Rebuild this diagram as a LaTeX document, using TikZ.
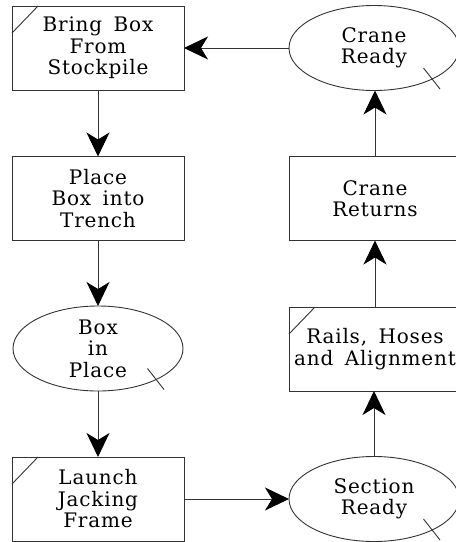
\documentclass[tikz,border=0pt]{standalone}
\usepackage{fontspec}
\setmainfont[LetterSpace=4,WordSpace=1.6]{DejaVu Serif}
\usetikzlibrary{shapes.geometric,arrows.meta,calc}
\begin{document}
\begin{tikzpicture}[x=1pt,y=-1pt,
  every node/.style={font=\fontsize{20}{21.5}\selectfont, align=center, inner sep=0pt, outer sep=0pt},
  task/.style={draw=black!80, line width=0.9pt, rectangle, minimum width=172pt, minimum height=84pt},
  state/.style={draw=black!80, line width=0.9pt, ellipse, minimum width=170pt, minimum height=85pt},
  flow/.style={draw=black!80, line width=0.9pt, -{Stealth[length=24pt,width=23pt,inset=7pt,black]}},
  tickline/.style={draw=black!80, line width=0.9pt}
]
\useasboundingbox (0,0) rectangle (456,542);
\clip (0,0) rectangle (456,542);

% left column: box handling
\node[task]  (bring)   at (98,48)    {Bring Box\\From\\Stockpile};
\node[task]  (place)   at (98,198.5) {Place\\Box into\\Trench};
\node[state] (inplace) at (98,348.5) {Box\\in\\Place};
\node[task]  (launch)  at (98,499)   {Launch\\Jacking\\Frame};

% right column: crane cycle
\node[state] (ready)   at (374,499)   {Section\\Ready};
\node[task]  (rails)   at (375,349)   {Rails, Hoses\\and Alignment};
\node[task]  (returns) at (375,198.5) {Crane\\Returns};
\node[state] (crane)   at (374,48)    {Crane\\Ready};

% corner marks on the boxes
\foreach \n in {bring,launch,rails}
  \draw[tickline] ($(\n.north west)+(0,27)$) -- ($(\n.north west)+(26,0)$);

% tick marks across the ellipses
\foreach \n in {inplace,ready,crane}
  \draw[tickline] ($(\n.center)+(49.5,20)$) -- ++(16.5,21);

% flow
\draw[flow] (bring)   -- (place);
\draw[flow] (place)   -- (inplace);
\draw[flow] (inplace) -- (launch);
\draw[flow] (launch)  -- (ready);
\draw[flow] (ready)   -- (ready |- rails.south);
\draw[flow] (rails)   -- (returns);
\draw[flow] (returns) -- (returns |- crane.south);
\draw[flow] (crane)   -- (bring);
\end{tikzpicture}
\end{document}
